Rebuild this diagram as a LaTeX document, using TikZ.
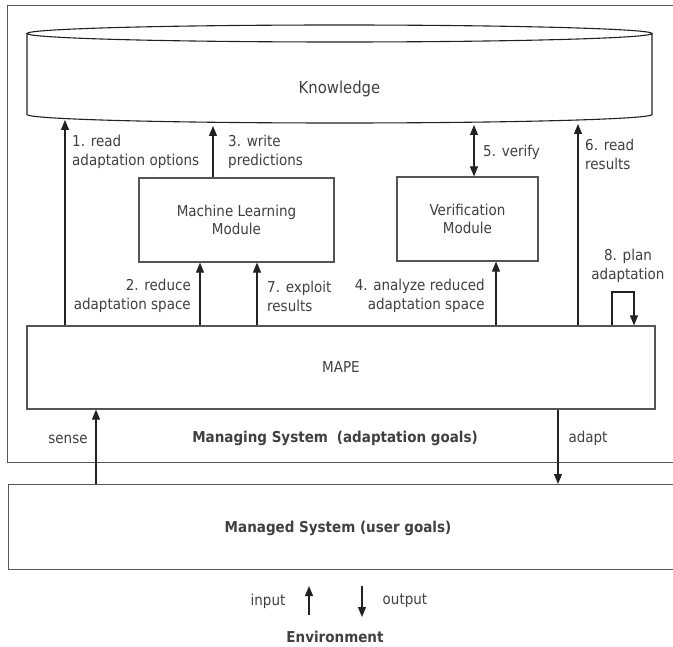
\documentclass[tikz,border=0pt]{standalone}
\usepackage{fontspec}
\setmainfont{DejaVu Sans Condensed}
\usetikzlibrary{arrows.meta}
\definecolor{txtcol}{HTML}{404040}
\definecolor{boxcol}{HTML}{555555}
\definecolor{arrcol}{HTML}{222222}
\begin{document}
\begin{tikzpicture}[x=1pt,y=-1pt,
  box/.style={draw=boxcol,line width=1.2pt,rectangle,inner sep=0pt},
  lbl/.style={text=txtcol,inner sep=0pt,font=\fontsize{15}{19}\selectfont},
  bold/.style={lbl,font=\fontsize{15}{19}\selectfont\bfseries},
  arr/.style={draw=arrcol,line width=1.1pt,-{Triangle[length=10pt,width=8pt]}},
  darr/.style={draw=arrcol,line width=1.1pt,{Triangle[length=10pt,width=8pt]}-{Triangle[length=10pt,width=8pt]}}]
\useasboundingbox (0,0) rectangle (673,647);
\clip (0,0) rectangle (673,647);
\fill[white] (0,0) rectangle (673,647);

% outer frames
\node[box,anchor=north west,minimum width=683pt,minimum height=457pt] (managing) at (7,5) {};
\node[box,anchor=north west,minimum width=682pt,minimum height=85pt] (managed) at (8,484) {};

% knowledge store (cylinder)
\draw[draw=arrcol,line width=1.1pt] (27,33.5) -- (27,114.5)
  arc[start angle=180,end angle=0,x radius=312.5,y radius=8.5] -- (652,33.5);
\draw[draw=arrcol,line width=1.1pt] (339.5,33.5) ellipse[x radius=312.5,y radius=8.5];
\node[lbl,font=\fontsize{16.5}{20}\selectfont] (knowledge) at (339.5,89) {Knowledge};
\coordinate (k1) at (65,120);
\coordinate (k3) at (213,126);
\coordinate (k5) at (474,125);
\coordinate (k6) at (578,124);

% modules
\node[box,minimum width=195pt,minimum height=84pt,align=center,text=txtcol,
      font=\fontsize{15}{18}\selectfont] (ml) at (236.5,220) {Machine Learning\\Module};
\node[box,minimum width=141pt,minimum height=84pt,align=center,text=txtcol,
      font=\fontsize{15}{18}\selectfont] (verif) at (467.5,219) {Verification\\Module};
\node[box,minimum width=628pt,minimum height=83pt,text=txtcol,
      font=\fontsize{15}{18}\selectfont] (mape) at (341,367.5) {MAPE};

% connectors between MAPE, modules and knowledge
\draw[arr] (mape.north -| k1) -- (k1);
\draw[arr] (ml.north -| k3) -- (k3);
\draw[arr] (mape.north -| 200,0) -- (ml.south -| 200,0);
\draw[arr] (mape.north -| 257,0) -- (ml.south -| 257,0);
\draw[darr] (k5) -- (verif.north -| k5);
\draw[arr] (mape.north -| 496,0) -- (verif.south -| 496,0);
\draw[arr] (mape.north -| k6) -- (k6);
\coordinate (p1) at (612,292);
\coordinate (p2) at (634,292);
\draw[arr] (mape.north -| p1) -- (p1) -- (p2) -- (mape.north -| p2);

% connectors to the managed system
\draw[arr] (managed.north -| 96,0) -- (mape.south -| 96,0);
\draw[arr] (mape.south -| 558,0) -- (managed.north -| 558,0);

% environment arrows
\coordinate (in0) at (309,615);
\coordinate (in1) at (309,586);
\coordinate (out0) at (362,586);
\coordinate (out1) at (362,617);
\draw[arr] (in0) -- (in1);
\draw[arr] (out0) -- (out1);

% labels
\node[lbl,anchor=west,align=left] (l1) at (72,151.5) {1. read\\adaptation options};
\node[lbl,anchor=west,align=left] (l3) at (228,151.5) {3. write\\predictions};
\node[lbl,anchor=west,align=left] (l5) at (483,152) {5. verify};
\node[lbl,anchor=west,align=left] (l6) at (585,154) {6. read\\results};
\node[lbl,anchor=east,align=right] (l2) at (191,296) {2. reduce\\adaptation space};
\node[lbl,anchor=west,align=left] (l7) at (267,296) {7. exploit\\results};
\node[lbl,anchor=east,align=right] (l4) at (485,296) {4. analyze reduced\\adaptation space};
\node[lbl,align=center] (l8) at (628,266) {8. plan\\adaptation};
\node[lbl] (lsense) at (68,439) {sense};
\node[lbl] (ladapt) at (588,438) {adapt};
\node[bold] (lmanaging) at (335,438) {Managing System\hspace{0.6em}(adaptation goals)};
\node[bold] (lmanaged) at (338,528) {Managed System (user goals)};
\node[lbl] (lin) at (268,601) {input};
\node[lbl] (lout) at (405,601) {output};
\node[bold] (lenv) at (335,637) {Environment};
\end{tikzpicture}
\end{document}
